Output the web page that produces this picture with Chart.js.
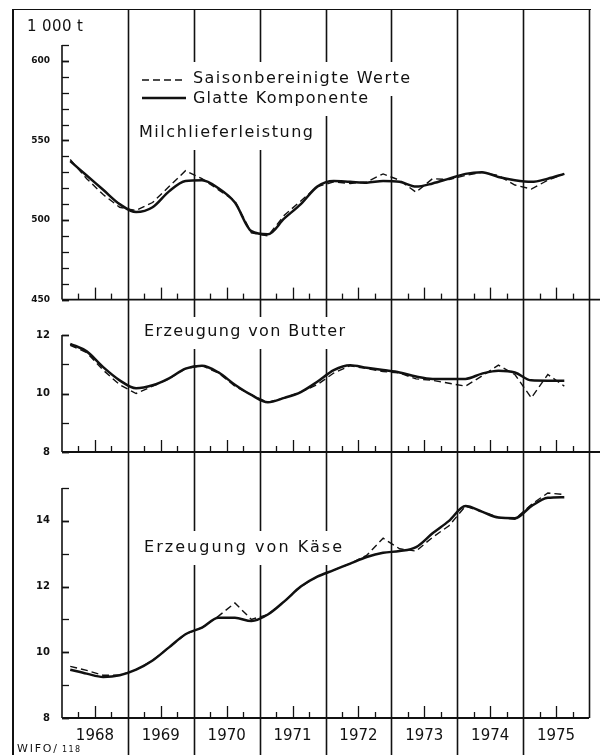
<!DOCTYPE html>
<html>
<head>
<meta charset="utf-8">
<script src="https://cdn.jsdelivr.net/npm/chart.js@4.4.1/dist/chart.umd.min.js"></script>
<style>
  html, body { margin: 0; padding: 0; background: #fff; }
  #page { position: relative; width: 600px; height: 755px; overflow: hidden; }
  canvas { position: absolute; left: 0; }
  #frame { position: absolute; left: 12px; top: 9px; width: 577px; height: 746px;
           border-left: 2px solid #111; border-top: 1.5px solid #111; pointer-events: none; }
</style>
</head>
<body>
<div id="page">
  <canvas id="milch" width="600" height="317" style="top:0"></canvas>
  <canvas id="butter" width="600" height="153" style="top:317px"></canvas>
  <canvas id="kaese" width="600" height="285" style="top:470px"></canvas>
  <div id="frame"></div>
</div>
<script>
// quarterly values, 1968 I. Qu. .. 1975 III. Qu.
const years = [1968, 1969, 1970, 1971, 1972, 1973, 1974, 1975];

const milchSaison = [538, 526, 516, 508, 506, 511, 521, 531, 526, 519, 512, 492, 490, 503, 512, 521,
                     524, 523, 524, 529, 525, 517.5, 526, 525.5, 528, 530, 528, 522, 519.5, 525, 529];
const milchGlatt  = [537, 528, 519, 510, 505, 508, 518, 524.5, 525, 520, 511, 493, 491, 501, 510, 521,
                     524.5, 524, 523.5, 524.5, 524, 521, 523, 526, 529, 530, 527, 525, 524, 526, 529];

const butterSaison = [11.65, 11.4, 10.8, 10.3, 10.0, 10.25, 10.5, 10.85, 10.95, 10.7, 10.25, 9.95, 9.7, 9.85, 10.05, 10.3,
                      10.7, 10.95, 10.85, 10.75, 10.7, 10.5, 10.45, 10.35, 10.25, 10.6, 10.97, 10.65, 9.85, 10.65, 10.25];
const butterGlatt  = [11.7, 11.44, 10.9, 10.45, 10.18, 10.28, 10.52, 10.85, 10.95, 10.72, 10.3, 9.95, 9.7, 9.85, 10.05, 10.4,
                      10.8, 10.97, 10.88, 10.8, 10.72, 10.58, 10.5, 10.5, 10.5, 10.68, 10.78, 10.72, 10.45, 10.44, 10.44];

const kaeseSaison = [9.57, 9.45, 9.3, 9.3, 9.47, 9.75, 10.15, 10.55, 10.75, 11.1, 11.5, 11.0, 11.15, 11.55, 12.0, 12.3,
                     12.5, 12.7, 12.95, 13.47, 13.15, 13.08, 13.5, 13.85, 14.45, 14.28, 14.1, 14.05, 14.5, 14.85, 14.8];
const kaeseGlatt  = [9.47, 9.35, 9.25, 9.3, 9.47, 9.75, 10.15, 10.55, 10.75, 11.05, 11.05, 10.95, 11.15, 11.55, 12.0, 12.3,
                     12.5, 12.7, 12.9, 13.03, 13.08, 13.2, 13.62, 14.0, 14.45, 14.28, 14.1, 14.08, 14.45, 14.7, 14.72];

const milchTicks = [450, 500, 550, 600];
const butterTicks = [8, 10, 12];
const kaeseTicks = [8, 10, 12, 14];

const ink = '#111';
const face = '"DejaVu Sans", sans-serif';

// quarter i sits in the middle of its quarter
const points = (values) => values.map((v, i) => ({x: years[0] + (i + 0.5) / 4, y: v}));

function measure(ctx, t) {
    ctx.font = `${t.size}px ${face}`;
    ctx.letterSpacing = '0px';
    return ctx.measureText(t.text).width;
}

function clearBehind(ctx, t) {
    if (t.pad === undefined) return;
    ctx.save();
    ctx.fillStyle = '#fff';
    ctx.fillRect(t.x - t.pad, t.y - 17, (t.width || measure(ctx, t)) + t.pad + 6, 34);
    ctx.restore();
}

function spacedText(ctx, t) {
    ctx.save();
    const natural = measure(ctx, t);
    const spacing = t.width ? (t.width - natural) / (t.text.length - 1) : 0;
    ctx.font = `${t.size}px ${face}`;
    ctx.letterSpacing = spacing + 'px';
    ctx.fillStyle = ink;
    ctx.textBaseline = 'middle';
    ctx.fillText(t.text, t.x, t.y);
    ctx.restore();
}

const panelFrame = {
    id: 'panelFrame',
    beforeDatasetsDraw(chart, args, opts) {
        const {ctx, chartArea: a, scales: {x, y}} = chart;
        ctx.save();
        ctx.strokeStyle = ink;
        ctx.lineCap = 'butt';

        // year lines and quarter ticks
        x.ticks.forEach(t => {
            const px = Math.round(x.getPixelForValue(t.value)) + 0.5;
            const frac = t.value % 1;
            ctx.beginPath();
            if (frac === 0) {
                if (t.value === x.min) return;
                ctx.lineWidth = 1.6;
                const bottom = (t.value === x.max && opts.lastPanel) ? a.bottom : chart.height;
                ctx.moveTo(px, opts.lineTop || 0);
                ctx.lineTo(px, bottom);
            } else {
                ctx.lineWidth = 1.3;
                const len = frac === 0.5 ? 12 : 6;
                ctx.moveTo(px, a.bottom);
                ctx.lineTo(px, a.bottom - len);
            }
            ctx.stroke();
        });

        // y axis with inward ticks
        ctx.lineWidth = 1.6;
        ctx.beginPath();
        ctx.moveTo(a.left, a.top);
        ctx.lineTo(a.left, a.bottom);
        ctx.stroke();
        y.ticks.forEach(t => {
            const py = Math.round(y.getPixelForValue(t.value)) + 0.5;
            ctx.lineWidth = t.label !== '' ? 1.8 : 1.3;
            ctx.beginPath();
            ctx.moveTo(a.left, py);
            ctx.lineTo(a.left + 7, py);
            ctx.stroke();
        });

        // base line
        ctx.lineWidth = 1.8;
        ctx.beginPath();
        ctx.moveTo(a.left, a.bottom);
        ctx.lineTo(a.right + (opts.baseExtra || 0), a.bottom);
        ctx.stroke();

        const texts = opts.texts || [];
        texts.forEach(t => clearBehind(ctx, t));
        texts.forEach(t => spacedText(ctx, t));

        if (opts.legend) {
            const lg = opts.legend;
            ctx.strokeStyle = ink;
            ctx.lineWidth = 1.4;
            ctx.setLineDash([7, 4]);
            ctx.beginPath();
            ctx.moveTo(lg.x0, lg.y1);
            ctx.lineTo(lg.x1, lg.y1);
            ctx.stroke();
            ctx.setLineDash([]);
            ctx.lineWidth = 2.4;
            ctx.beginPath();
            ctx.moveTo(lg.x0, lg.y2);
            ctx.lineTo(lg.x1, lg.y2);
            ctx.stroke();
        }
        ctx.restore();
    }
};

function makePanel(id, saison, glatt, yMin, yMax, yStep, tickLabels, yFont, padding, frameOpts, showYears) {
    return new Chart(document.getElementById(id), {
        type: 'line',
        data: {
            datasets: [{
                label: 'Saisonbereinigte Werte',
                data: points(saison),
                borderColor: ink,
                borderWidth: 1.4,
                borderDash: [7, 4],
                pointRadius: 0,
                tension: 0
            }, {
                label: 'Glatte Komponente',
                data: points(glatt),
                borderColor: ink,
                borderWidth: 2.5,
                pointRadius: 0,
                cubicInterpolationMode: 'monotone'
            }]
        },
        options: {
            responsive: false,
            animation: false,
            events: [],
            layout: {padding},
            plugins: {
                legend: {display: false},
                tooltip: {enabled: false},
                panelFrame: frameOpts
            },
            scales: {
                x: {
                    type: 'linear',
                    min: years[0],
                    max: years[years.length - 1] + 1,
                    grid: {display: false, drawTicks: false},
                    border: {display: false},
                    ticks: {
                        display: showYears,
                        stepSize: 0.25,
                        autoSkip: false,
                        maxRotation: 0,
                        padding: 9,
                        color: ink,
                        font: {family: face, size: 15},
                        callback: (v) => years.includes(v - 0.5) ? String(v - 0.5) : ''
                    },
                    afterFit: (s) => { s.height = showYears ? 37 : 0; }
                },
                y: {
                    min: yMin,
                    max: yMax,
                    grid: {display: false, drawTicks: false},
                    border: {display: false},
                    ticks: {
                        stepSize: yStep,
                        autoSkip: false,
                        padding: 12,
                        color: ink,
                        font: yFont,
                        callback: (v) => tickLabels.includes(v) ? String(v) : ''
                    },
                    afterFit: (s) => { s.width = 50; }
                }
            }
        },
        plugins: [panelFrame]
    });
}

makePanel('milch', milchSaison, milchGlatt, 450, 610, 10, milchTicks,
    {family: face, size: 9, weight: 'bold'},
    {left: 12, right: 11, top: 45, bottom: 12},
    {
        lineTop: 10,
        baseExtra: 11,
        legend: {x0: 142, x1: 186, y1: 80, y2: 98},
        texts: [
            {text: '1 000 t', x: 27, y: 27, size: 15, width: 56},
            {text: 'Saisonbereinigte Werte', x: 193, y: 79, size: 16, width: 217, pad: 58},
            {text: 'Glatte Komponente', x: 193, y: 99, size: 16, width: 175, pad: 58},
            {text: 'Milchlieferleistung', x: 139, y: 133, size: 16, width: 174, pad: 4}
        ]
    }, false);

makePanel('butter', butterSaison, butterGlatt, 8, 12, 1, butterTicks,
    {family: face, size: 10, weight: 'bold'},
    {left: 12, right: 11, top: 12, bottom: 13},
    {
        baseExtra: 11,
        texts: [
            {text: 'Erzeugung von Butter', x: 144, y: 15, size: 16, width: 201, pad: 4}
        ]
    }, false);

makePanel('kaese', kaeseSaison, kaeseGlatt, 8, 15, 1, kaeseTicks,
    {family: face, size: 10, weight: 'bold'},
    {left: 12, right: 11, top: 18, bottom: 0},
    {
        lastPanel: true,
        texts: [
            {text: 'Erzeugung von Käse', x: 144, y: 78, size: 16, width: 198, pad: 4},
            {text: 'WIFO/', x: 17, y: 279, size: 11, width: 40},
            {text: '118', x: 62, y: 280, size: 8, width: 18}
        ]
    }, true);
</script>
</body>
</html>
